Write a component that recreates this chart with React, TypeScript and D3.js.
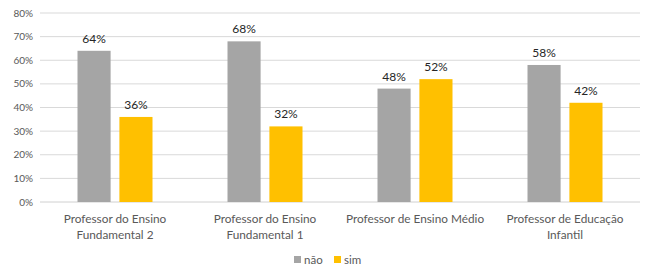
import React from "react";
import * as d3 from "d3";

// categories (two-line labels) and the two series
const categories = [
  ["Professor do Ensino", "Fundamental 2"],
  ["Professor do Ensino", "Fundamental 1"],
  ["Professor de Ensino Médio"],
  ["Professor de Educação", "Infantil"],
];
const nao = [64, 68, 48, 58];
const sim = [36, 32, 52, 42];
const seriesNames = ["não", "sim"];
const yTicks = [0, 10, 20, 30, 40, 50, 60, 70, 80];

const colors = ["#A5A5A5", "#FFC000"];
const font = "Lato, 'Open Sans', sans-serif";

export default function App() {
  const width = 650;
  const height = 273;
  const plotLeft = 40, plotRight = 640, plotTop = 13, plotBottom = 202;

  const x0 = d3
    .scaleBand<number>()
    .domain(categories.map((_, i) => i))
    .range([plotLeft, plotRight])
    .padding(0);
  const x1 = d3
    .scaleBand<string>()
    .domain(seriesNames)
    .range([x0.bandwidth() / 2 - 37.5, x0.bandwidth() / 2 + 37.5])
    .paddingInner(0.21)
    .paddingOuter(0);
  const y = d3.scaleLinear().domain([0, 80]).range([plotBottom, plotTop]);

  const series = [nao, sim];

  return (
    <svg
      width={width}
      height={height}
      style={{ position: "absolute", left: 0, top: 0, background: "#fff" }}
      fontFamily={font}
    >
      {/* grid + y labels */}
      {yTicks.map((t) => (
        <g key={t}>
          <line
            x1={plotLeft}
            x2={plotRight}
            y1={y(t)}
            y2={y(t)}
            stroke={t === 0 ? "#D0D0D0" : "#D9D9D9"}
            strokeWidth={1}
          />
          <text
            x={33}
            y={y(t)}
            dy="0.35em"
            textAnchor="end"
            fontSize={10}
            fill="#595959"
          >
            {t + "%"}
          </text>
        </g>
      ))}

      {/* bars */}
      {categories.map((cat, i) => (
        <g key={i} transform={`translate(${x0(i)},0)`}>
          {series.map((s, j) => {
            const bx = x1(seriesNames[j])!;
            const bw = x1.bandwidth();
            return (
              <g key={j}>
                <rect
                  x={bx}
                  y={y(s[i])}
                  width={bw}
                  height={y(0) - y(s[i])}
                  fill={colors[j]}
                />
                <text
                  x={bx + bw / 2}
                  y={y(s[i]) - 8}
                  textAnchor="middle"
                  fontSize={12}
                  fill="#262626"
                >
                  {s[i] + "%"}
                </text>
              </g>
            );
          })}
          <text
            x={x0.bandwidth() / 2}
            y={223}
            textAnchor="middle"
            fontSize={11.8}
            fill="#595959"
          >
            {cat.map((line, k) => (
              <tspan key={k} x={x0.bandwidth() / 2} dy={k === 0 ? 0 : 16}>
                {line}
              </tspan>
            ))}
          </text>
        </g>
      ))}

      {/* legend */}
      {seriesNames.map((n, j) => (
        <g key={n} transform={`translate(${294 + j * 40},260)`}>
          <rect x={0} y={-4} width={7} height={7} fill={colors[j]} />
          <text x={10} y={0} dy="0.35em" fontSize={11.5} fill="#595959">
            {n}
          </text>
        </g>
      ))}
    </svg>
  );
}
